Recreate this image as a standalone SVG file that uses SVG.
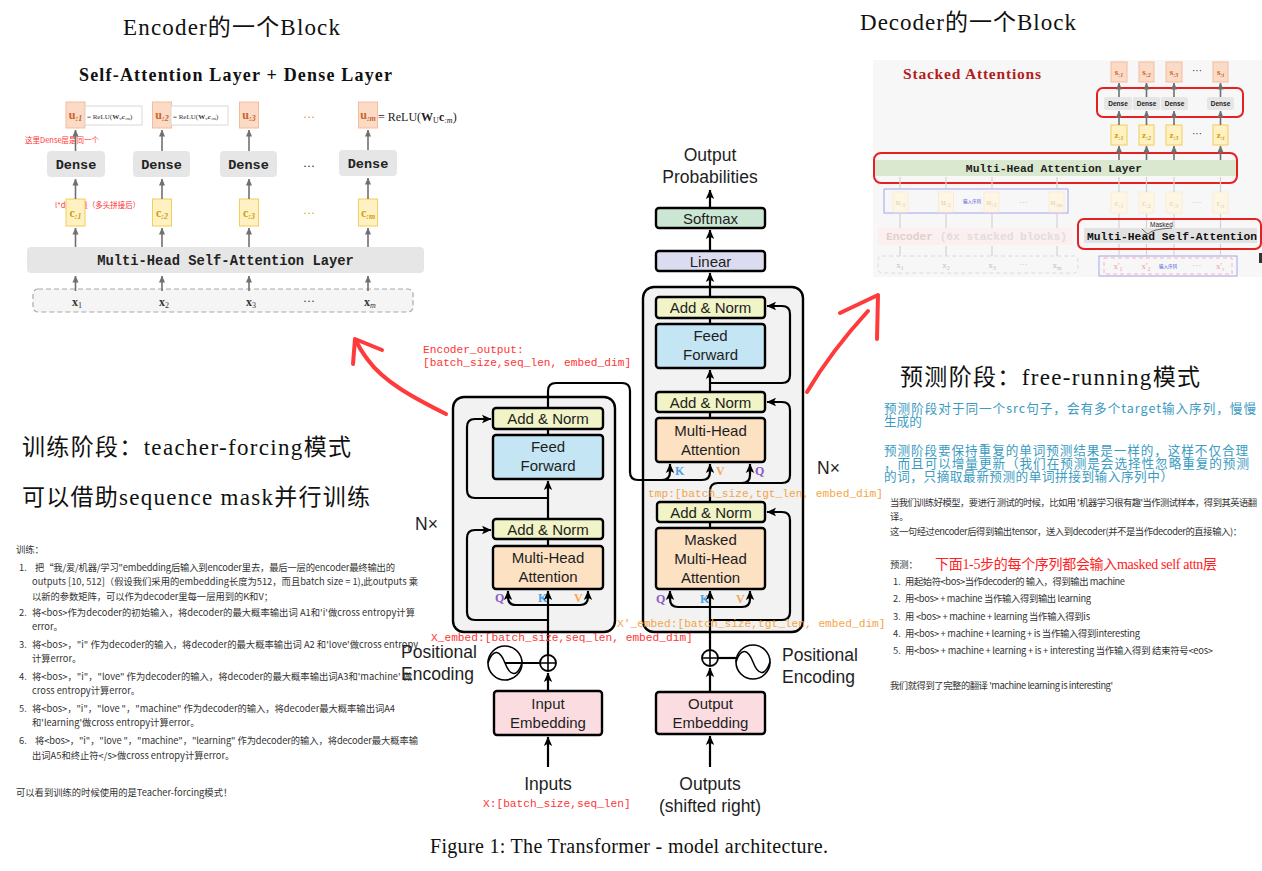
<svg xmlns="http://www.w3.org/2000/svg" width="1262" height="871" viewBox="0 0 1262 871">
<defs>
<style>
.sans{font-family:'Liberation Sans','Noto Sans CJK SC',sans-serif}
.serif{font-family:'Liberation Serif','Noto Sans CJK SC',serif}
.mono{font-family:'Liberation Mono','DejaVu Sans Mono',monospace}
.blk{stroke:#000;stroke-width:2.4}
.an{fill:#f1f4c6}
.ff{fill:#c4e5f4}
.mha{fill:#fde1c3}
.emb{fill:#fbdde1}
.lin{fill:#dcdcf0}
.sm{fill:#cbe7d3}
.outer{fill:#f2f2f2;stroke:#000;stroke-width:2.4}
.lbl{font-family:'Liberation Sans',sans-serif;font-size:15px;fill:#1e1e1e;text-anchor:middle}
.big{font-family:'Liberation Sans',sans-serif;font-size:17.5px;fill:#1e1e1e}
.conn{fill:none;stroke:#000;stroke-width:2.2}
.mred{font-family:'Liberation Mono',monospace;font-size:11.2px;fill:#ff3535}
.morg{font-family:'Liberation Mono',monospace;font-size:11.2px;fill:#f4a545}
.note{font-family:'Noto Sans CJK SC',sans-serif;font-size:9.3px;fill:#333}
.teal{font-family:'Noto Sans CJK SC',sans-serif;font-size:12.6px;fill:#3a9bc1}
.head{font-family:'Liberation Serif','Noto Sans CJK SC',serif;font-size:23px;fill:#111}
.q{font-family:'Liberation Serif',serif;font-size:12px;font-weight:bold;fill:#8a5ccc}
.k{font-family:'Liberation Serif',serif;font-size:12px;font-weight:bold;fill:#4aa3e6}
.v{font-family:'Liberation Serif',serif;font-size:12px;font-weight:bold;fill:#f5a858}
.ubox{fill:#fbdac6;stroke:#f3bc9c;stroke-width:1}
.cbox{fill:#fff1c2;stroke:#f0cd5c;stroke-width:1}
.utx{font-family:'Liberation Serif',serif;font-weight:bold;fill:#c8642a;text-anchor:middle}
.ctx{font-family:'Liberation Serif',serif;font-weight:bold;fill:#c9a010;text-anchor:middle}
.dense{fill:#e6e6e6}
.gar{fill:none;stroke:#707070;stroke-width:1.6}
.far{fill:none;stroke:#d2d2d2;stroke-width:1.2}
.hand{fill:none;stroke:#ff3a3a;stroke-width:4;stroke-linecap:round;stroke-linejoin:round}
.redbox{fill:none;stroke:#e52020;stroke-width:2}
</style>
<marker id="ah" markerUnits="userSpaceOnUse" markerWidth="10" markerHeight="10" refX="9" refY="5" orient="auto">
<path d="M0,0.8 L9.5,5 L0,9.2 L2.2,5 Z" fill="#000"/>
</marker>
<marker id="ag" markerUnits="userSpaceOnUse" markerWidth="7" markerHeight="7" refX="6.5" refY="3.5" orient="auto">
<path d="M0,0.5 L7,3.5 L0,6.5 Z" fill="#707070"/>
</marker>
</defs>
<rect x="0" y="0" width="1262" height="871" fill="#fff"/>

<!-- ============ Top-left: Encoder block figure ============ -->
<g id="encoder-block-figure">
<text class="head" x="123" y="35" textLength="217">Encoder的一个Block</text>
<text class="serif" x="235.5" y="81" font-size="18" font-weight="bold" text-anchor="middle" fill="#111" textLength="313">Self-Attention Layer + Dense Layer</text>
<g id="tl-u">
<rect class="ubox" x="66" y="102" width="19" height="26"/>
<rect class="ubox" x="152.5" y="102" width="19" height="26"/>
<rect class="ubox" x="239.5" y="102" width="19" height="26"/>
<rect class="ubox" x="358.5" y="102" width="19" height="26"/>
<text class="utx" x="75.5" y="119" font-size="12">u<tspan font-size="8" font-style="italic" dy="2">:1</tspan></text>
<text class="utx" x="162" y="119" font-size="12">u<tspan font-size="8" font-style="italic" dy="2">:2</tspan></text>
<text class="utx" x="249" y="119" font-size="12">u<tspan font-size="8" font-style="italic" dy="2">:3</tspan></text>
<text class="utx" x="368" y="119" font-size="12">u<tspan font-size="8" font-style="italic" dy="2">:m</tspan></text>
<text x="309" y="121" font-family="Liberation Serif,serif" font-size="12" fill="#e08840" text-anchor="middle">···</text>
</g>
<g id="tl-relu">
<rect x="85" y="106" width="57" height="19" fill="#fff" stroke="#d8d8d8" stroke-width="1"/>
<rect x="171" y="106" width="57" height="19" fill="#fff" stroke="#d8d8d8" stroke-width="1"/>
<text x="87" y="118.5" font-family="Liberation Serif,serif" font-size="7" fill="#333">= ReLU(<tspan font-weight="bold">W</tspan><tspan font-size="5" dy="1.5">v</tspan><tspan font-weight="bold" font-style="italic" dy="-1.5">c</tspan><tspan font-size="5" dy="1.5">:m</tspan><tspan dy="-1.5">)</tspan></text>
<text x="173" y="118.5" font-family="Liberation Serif,serif" font-size="7" fill="#333">= ReLU(<tspan font-weight="bold">W</tspan><tspan font-size="5" dy="1.5">v</tspan><tspan font-weight="bold" font-style="italic" dy="-1.5">c</tspan><tspan font-size="5" dy="1.5">:m</tspan><tspan dy="-1.5">)</tspan></text>
<text x="378" y="121" font-family="Liberation Serif,serif" font-size="12" fill="#222">= ReLU(<tspan font-weight="bold">W</tspan><tspan font-size="8" dy="2">U</tspan><tspan font-weight="bold" dy="-2">c</tspan><tspan font-size="8" font-style="italic" dy="2">:m</tspan><tspan dy="-2">)</tspan></text>
</g>
<text x="25" y="143" font-family="Noto Sans CJK SC,sans-serif" font-size="7.5" fill="#ff3030">这里Dense层是同一个</text>
<g id="tl-dense">
<rect class="dense" x="47" y="151" width="58" height="26" rx="4"/>
<rect class="dense" x="133" y="151" width="57" height="26" rx="4"/>
<rect class="dense" x="220" y="151" width="57" height="26" rx="4"/>
<rect class="dense" x="339" y="150" width="58" height="26" rx="4"/>
<g font-family="Liberation Mono,monospace" font-size="13.5" font-weight="bold" fill="#222" text-anchor="middle">
<text x="76" y="168.5">Dense</text>
<text x="161.5" y="168.5">Dense</text>
<text x="248.5" y="168.5">Dense</text>
<text x="368" y="167.5">Dense</text>
</g>
<text x="309" y="170" font-family="Liberation Serif,serif" font-size="12" fill="#222" text-anchor="middle">···</text>
</g>
<text x="55" y="208" font-family="Noto Sans CJK SC,sans-serif" font-size="7.5" fill="#ff3030">l*d维向量（多头拼接后）</text>
<g id="tl-c">
<rect class="cbox" x="66" y="199" width="19" height="27"/>
<rect class="cbox" x="152.5" y="199" width="19" height="27"/>
<rect class="cbox" x="239.5" y="199" width="19" height="27"/>
<rect class="cbox" x="358.5" y="199" width="19" height="27"/>
<text class="ctx" x="75.5" y="217" font-size="12">c<tspan font-size="8" font-style="italic" dy="2">:1</tspan></text>
<text class="ctx" x="162" y="217" font-size="12">c<tspan font-size="8" font-style="italic" dy="2">:2</tspan></text>
<text class="ctx" x="249" y="217" font-size="12">c<tspan font-size="8" font-style="italic" dy="2">:3</tspan></text>
<text class="ctx" x="368" y="217" font-size="12">c<tspan font-size="8" font-style="italic" dy="2">:m</tspan></text>
<text x="309" y="217" font-family="Liberation Serif,serif" font-size="12" fill="#d8a820" text-anchor="middle">···</text>
</g>
<g id="tl-layer">
<rect x="27" y="247" width="397" height="26" rx="4" fill="#e6e6e6"/>
<text x="225.5" y="264.5" font-family="Liberation Mono,monospace" font-size="13.8" font-weight="bold" fill="#222" text-anchor="middle">Multi-Head Self-Attention Layer</text>
</g>
<g id="tl-inputs">
<rect x="33" y="289" width="380" height="23" rx="5" fill="#f5f5f5" stroke="#aaa" stroke-width="1.2" stroke-dasharray="5 3"/>
<g font-family="Liberation Serif,serif" font-size="12" font-weight="bold" fill="#333" text-anchor="middle">
<text x="77" y="306">x<tspan font-size="8" font-weight="normal" dy="2">1</tspan></text>
<text x="164" y="306">x<tspan font-size="8" font-weight="normal" dy="2">2</tspan></text>
<text x="251" y="306">x<tspan font-size="8" font-weight="normal" dy="2">3</tspan></text>
<text x="309" y="305" font-weight="normal">···</text>
<text x="370" y="306">x<tspan font-size="8" font-weight="normal" font-style="italic" dy="2">m</tspan></text>
</g>
</g>
<g id="tl-arrows">
<path class="gar" d="M75.5,291V276" marker-end="url(#ag)"/><path class="gar" d="M162,291V276" marker-end="url(#ag)"/><path class="gar" d="M249,291V276" marker-end="url(#ag)"/><path class="gar" d="M368,291V276" marker-end="url(#ag)"/>
<path class="gar" d="M75.5,247V228" marker-end="url(#ag)"/><path class="gar" d="M162,247V228" marker-end="url(#ag)"/><path class="gar" d="M249,247V228" marker-end="url(#ag)"/><path class="gar" d="M368,247V228" marker-end="url(#ag)"/>
<path class="gar" d="M75.5,199V179" marker-end="url(#ag)"/><path class="gar" d="M162,199V179" marker-end="url(#ag)"/><path class="gar" d="M249,199V179" marker-end="url(#ag)"/><path class="gar" d="M368,199V178" marker-end="url(#ag)"/>
<path class="gar" d="M75.5,151V130" marker-end="url(#ag)"/><path class="gar" d="M162,151V130" marker-end="url(#ag)"/><path class="gar" d="M249,151V130" marker-end="url(#ag)"/><path class="gar" d="M368,150V130" marker-end="url(#ag)"/>
</g>
</g>

<!-- ============ Top-right: Decoder block figure ============ -->
<g id="decoder-block-figure">
<text class="head" x="860" y="30" textLength="216">Decoder的一个Block</text>
<rect x="873" y="60" width="389" height="217" fill="#f7f7f7"/>
<text x="903" y="79" font-family="Liberation Serif,serif" font-size="15.5" font-weight="bold" fill="#b41c1c" textLength="138">Stacked Attentions</text>
<g id="tr-s">
<rect class="ubox" x="1111" y="62" width="16" height="20"/>
<rect class="ubox" x="1139" y="62" width="15" height="20"/>
<rect class="ubox" x="1166" y="62" width="16" height="20"/>
<rect class="ubox" x="1213" y="62" width="15" height="20"/>
<text class="utx" x="1119" y="75" font-size="9">s<tspan font-size="6" font-style="italic" dy="1.5">:1</tspan></text>
<text class="utx" x="1146.5" y="75" font-size="9">s<tspan font-size="6" font-style="italic" dy="1.5">:2</tspan></text>
<text class="utx" x="1174" y="75" font-size="9">s<tspan font-size="6" font-style="italic" dy="1.5">:3</tspan></text>
<text class="utx" x="1220.5" y="75" font-size="9">s<tspan font-size="6" font-style="italic" dy="1.5">:t</tspan></text>
<text x="1197" y="74" font-family="Liberation Serif,serif" font-size="10" fill="#222" text-anchor="middle">···</text>
</g>
<g id="tr-dense">
<rect class="dense" x="1104" y="97" width="28" height="13" rx="2"/>
<rect class="dense" x="1133" y="97" width="27" height="13" rx="2"/>
<rect class="dense" x="1161" y="97" width="27" height="13" rx="2"/>
<rect class="dense" x="1207" y="97" width="27" height="13" rx="2"/>
<g font-family="Liberation Sans,sans-serif" font-size="6.5" font-weight="bold" fill="#222" text-anchor="middle">
<text x="1118" y="106">Dense</text><text x="1146.5" y="106">Dense</text><text x="1174.5" y="106">Dense</text><text x="1220.5" y="106">Dense</text>
</g>
<rect class="redbox" x="1097" y="88" width="146" height="29" rx="6"/>
</g>
<g id="tr-z">
<rect class="cbox" x="1111" y="125" width="16" height="20"/>
<rect class="cbox" x="1139" y="125" width="15" height="20"/>
<rect class="cbox" x="1166" y="125" width="16" height="20"/>
<rect class="cbox" x="1213" y="125" width="15" height="20"/>
<text class="ctx" x="1119" y="138" font-size="9">z<tspan font-size="6" font-style="italic" dy="1.5">:1</tspan></text>
<text class="ctx" x="1146.5" y="138" font-size="9">z<tspan font-size="6" font-style="italic" dy="1.5">:2</tspan></text>
<text class="ctx" x="1174" y="138" font-size="9">z<tspan font-size="6" font-style="italic" dy="1.5">:3</tspan></text>
<text class="ctx" x="1220.5" y="138" font-size="9">z<tspan font-size="6" font-style="italic" dy="1.5">:t</tspan></text>
<text x="1197" y="137" font-family="Liberation Serif,serif" font-size="10" fill="#222" text-anchor="middle">···</text>
</g>
<g id="tr-mha">
<rect x="874" y="160" width="362" height="16" fill="#d9e8cf"/>
<text x="1054" y="171.5" font-family="Liberation Mono,monospace" font-size="11.3" font-weight="bold" fill="#222" text-anchor="middle">Multi-Head Attention Layer</text>
<rect class="redbox" x="874" y="153" width="363" height="30" rx="7"/>
</g>
<g id="tr-faded">
<rect x="884" y="189" width="184" height="24" fill="none" stroke="#a4a4f0" stroke-width="1"/>
<g fill="#fdf6e4" stroke="#f7ead0" stroke-width="0.8">
<rect x="893" y="192" width="15" height="20"/><rect x="938.5" y="192" width="15" height="20"/><rect x="984" y="192" width="15" height="20"/><rect x="1049" y="192" width="15" height="20"/>
<rect x="1111" y="192" width="16" height="21"/><rect x="1139" y="192" width="15" height="21"/><rect x="1166" y="192" width="16" height="21"/><rect x="1213" y="192" width="15" height="21"/>
</g>
<g font-family="Liberation Serif,serif" font-size="9" font-weight="bold" fill="#eadcb8" text-anchor="middle">
<text x="900.5" y="205">u<tspan font-size="6" dy="1.5">:1</tspan></text><text x="946" y="205">u<tspan font-size="6" dy="1.5">:2</tspan></text><text x="991.5" y="205">u<tspan font-size="6" dy="1.5">:3</tspan></text><text x="1056.5" y="205">u<tspan font-size="6" dy="1.5">:m</tspan></text>
<text x="1119" y="206">c<tspan font-size="6" dy="1.5">:1</tspan></text><text x="1146.5" y="206">c<tspan font-size="6" dy="1.5">:2</tspan></text><text x="1174" y="206">c<tspan font-size="6" dy="1.5">:3</tspan></text><text x="1220.5" y="206">c<tspan font-size="6" dy="1.5">:t</tspan></text>
</g>
<text x="1023" y="205" font-family="Liberation Serif,serif" font-size="9" fill="#bbb" text-anchor="middle">···</text>
<text x="1197" y="205" font-family="Liberation Serif,serif" font-size="9" fill="#bbb" text-anchor="middle">···</text>
<text x="972" y="203" font-family="Noto Sans CJK SC,sans-serif" font-size="4.5" fill="#5050e0" text-anchor="middle">输入序列</text>
<rect x="878" y="228" width="195" height="17" fill="#fcefef"/>
<text x="886" y="240" font-family="Liberation Mono,monospace" font-size="11.2" font-weight="bold" fill="#ddd0d0" textLength="181">Encoder <tspan fill="#dedede">(6x stacked blocks)</tspan></text>
<rect x="878" y="256" width="200" height="17" rx="4" fill="none" stroke="#dadada" stroke-width="1" stroke-dasharray="4 3"/>
<g font-family="Liberation Serif,serif" font-size="9" fill="#c0c0c0" text-anchor="middle">
<text x="900" y="268">x<tspan font-size="6" dy="1.5">1</tspan></text><text x="946" y="268">x<tspan font-size="6" dy="1.5">2</tspan></text><text x="992" y="268">x<tspan font-size="6" dy="1.5">3</tspan></text><text x="1023" y="267">···</text><text x="1057" y="268">x<tspan font-size="6" dy="1.5">m</tspan></text>
</g>
<rect x="1099" y="256" width="138" height="20" fill="none" stroke="#a4a4f0" stroke-width="1"/>
<rect x="1104" y="258" width="128" height="16" fill="none" stroke="#f6b4b4" stroke-width="1" stroke-dasharray="4 3"/>
<g font-family="Liberation Serif,serif" font-size="9" fill="#f09a9a" text-anchor="middle">
<text x="1118" y="269">x'<tspan font-size="6" dy="1.5">1</tspan></text><text x="1146" y="269">x'<tspan font-size="6" dy="1.5">2</tspan></text><text x="1197" y="268">···</text><text x="1220" y="269">x'<tspan font-size="6" dy="1.5">t</tspan></text>
</g>
<text x="1168" y="268" font-family="Noto Sans CJK SC,sans-serif" font-size="4.5" fill="#5050e0" text-anchor="middle">输入序列</text>
<path class="far" d="M900,256V246 M946,256V246 M992,256V246 M1057,256V246 M900,228V214 M946,228V214 M992,228V214 M1057,228V214 M900,189V177 M946,189V177 M992,189V177 M1057,189V177 M1119,256V244 M1146.5,256V244 M1174,256V244 M1220.5,256V244 M1119,228V214 M1146.5,228V214 M1174,228V214 M1220.5,228V214 M1119,192V177 M1146.5,192V177 M1174,192V177 M1220.5,192V177"/>
</g>
<g id="tr-mmsa">
<rect x="1084" y="228" width="173" height="15" fill="#e2e2e2"/>
<text x="1087" y="239.5" font-family="Liberation Mono,monospace" font-size="11.3" font-weight="bold" fill="#111" textLength="170">Multi-Head Self-Attention</text>
<text x="1150" y="227" font-family="Liberation Sans,sans-serif" font-size="6.5" fill="#222">Masked</text>
<path d="M1142,229 Q1146,233 1148,234 Q1152,229 1172,228" fill="none" stroke="#333" stroke-width="0.7"/>
<rect class="redbox" x="1078" y="219" width="183" height="30" rx="6"/>
</g>
<g id="tr-arrows">
<path class="gar" d="M1119,97V83" marker-end="url(#ag)"/><path class="gar" d="M1146.5,97V83" marker-end="url(#ag)"/><path class="gar" d="M1174,97V83" marker-end="url(#ag)"/><path class="gar" d="M1220.5,97V83" marker-end="url(#ag)"/>
<path class="gar" d="M1119,125V111" marker-end="url(#ag)"/><path class="gar" d="M1146.5,125V111" marker-end="url(#ag)"/><path class="gar" d="M1174,125V111" marker-end="url(#ag)"/><path class="gar" d="M1220.5,125V111" marker-end="url(#ag)"/>
<path class="gar" d="M1119,160V146" marker-end="url(#ag)"/><path class="gar" d="M1146.5,160V146" marker-end="url(#ag)"/><path class="gar" d="M1174,160V146" marker-end="url(#ag)"/><path class="gar" d="M1220.5,160V146" marker-end="url(#ag)"/>
</g>
<rect x="1259" y="253" width="3" height="10" fill="#333"/>
</g>

<!-- ============ Transformer: nodes ============ -->
<g id="encoder-stack"><rect class="outer" x="453" y="397" width="162" height="235" rx="11"/><text class="big" x="415" y="530">N×</text></g>
<g id="decoder-stack"><rect class="outer" x="643" y="287" width="160" height="345" rx="11"/><text class="big" x="817" y="474">N×</text></g>

<g id="enc-addnorm2"><rect class="an blk" x="493" y="408" width="110" height="21" rx="3"/><text class="lbl" x="548" y="424">Add &amp; Norm</text></g>
<g id="enc-ff"><rect class="ff blk" x="493" y="435" width="110" height="44" rx="3"/><text class="lbl" x="548" y="452">Feed</text><text class="lbl" x="548" y="471">Forward</text></g>
<g id="enc-addnorm1"><rect class="an blk" x="493" y="519" width="110" height="20" rx="3"/><text class="lbl" x="548" y="535">Add &amp; Norm</text></g>
<g id="enc-mha"><rect class="mha blk" x="493" y="546" width="110" height="43" rx="3"/><text class="lbl" x="548" y="563">Multi-Head</text><text class="lbl" x="548" y="582">Attention</text>
<text class="q" x="495" y="602">Q</text><text class="k" x="538" y="602">K</text><text class="v" x="574" y="602">V</text></g>
<g id="enc-embed"><rect class="emb blk" x="494" y="691" width="108" height="44" rx="3"/><text class="lbl" x="548" y="709">Input</text><text class="lbl" x="548" y="728">Embedding</text></g>
<g id="enc-posenc">
<circle cx="548" cy="663" r="8" fill="#fff" stroke="#000" stroke-width="1.8"/><path d="M540,663H556M548,655V671" stroke="#000" stroke-width="1.6"/>
<circle cx="505" cy="663" r="17" fill="#fff" stroke="#000" stroke-width="1.6"/>
<path d="M488,663 C493,648 500,650 505,663 C510,676 517,678 522,663" fill="none" stroke="#000" stroke-width="1.5"/>
<text class="big" x="401" y="658">Positional</text><text class="big" x="401" y="680">Encoding</text>
</g>
<g id="enc-inputs"><text class="big" x="548" y="790" text-anchor="middle">Inputs</text></g>

<g id="dec-softmax"><rect class="sm blk" x="656" y="208" width="109" height="20" rx="3"/><text class="lbl" x="710.5" y="224">Softmax</text></g>
<g id="dec-linear"><rect class="lin blk" x="656" y="251" width="109" height="20" rx="3"/><text class="lbl" x="710.5" y="267">Linear</text></g>
<g id="dec-outprob"><text class="big" x="710" y="161" text-anchor="middle">Output</text><text class="big" x="710" y="183" text-anchor="middle">Probabilities</text></g>
<g id="dec-addnorm3"><rect class="an blk" x="656" y="297" width="109" height="21" rx="3"/><text class="lbl" x="710.5" y="313">Add &amp; Norm</text></g>
<g id="dec-ff"><rect class="ff blk" x="656" y="324" width="109" height="44" rx="3"/><text class="lbl" x="710.5" y="341">Feed</text><text class="lbl" x="710.5" y="360">Forward</text></g>
<g id="dec-addnorm2"><rect class="an blk" x="656" y="392" width="109" height="20" rx="3"/><text class="lbl" x="710.5" y="408">Add &amp; Norm</text></g>
<g id="dec-mha"><rect class="mha blk" x="656" y="418" width="109" height="44" rx="3"/><text class="lbl" x="710.5" y="436">Multi-Head</text><text class="lbl" x="710.5" y="455">Attention</text>
<text class="k" x="675" y="475">K</text><text class="v" x="716" y="475">V</text><text class="q" x="755" y="475">Q</text></g>
<g id="dec-addnorm1"><rect class="an blk" x="657" y="502" width="108" height="20" rx="3"/><text class="lbl" x="711" y="518">Add &amp; Norm</text></g>
<g id="dec-mmha"><rect class="mha blk" x="656" y="528" width="109" height="61" rx="3"/><text class="lbl" x="710.5" y="545">Masked</text><text class="lbl" x="710.5" y="564">Multi-Head</text><text class="lbl" x="710.5" y="583">Attention</text>
<text class="q" x="656" y="603">Q</text><text class="k" x="700" y="603">K</text><text class="v" x="736" y="603">V</text></g>
<g id="dec-embed"><rect class="emb blk" x="656" y="692" width="109" height="42" rx="3"/><text class="lbl" x="710.5" y="709">Output</text><text class="lbl" x="710.5" y="728">Embedding</text></g>
<g id="dec-posenc">
<circle cx="710" cy="658" r="8" fill="#fff" stroke="#000" stroke-width="1.8"/><path d="M702,658H718M710,650V666" stroke="#000" stroke-width="1.6"/>
<circle cx="753" cy="662" r="17" fill="#fff" stroke="#000" stroke-width="1.6"/>
<path d="M736,662 C741,647 748,649 753,662 C758,675 765,677 770,662" fill="none" stroke="#000" stroke-width="1.5"/>
<text class="big" x="782" y="661">Positional</text><text class="big" x="782" y="683">Encoding</text>
</g>
<g id="dec-outputs"><text class="big" x="710" y="790" text-anchor="middle">Outputs</text><text class="big" x="710" y="812" text-anchor="middle">(shifted right)</text></g>

<!-- ============ Connectors ============ -->
<g id="connectors">
<path class="conn" d="M548,767V737" marker-end="url(#ah)"/>
<path class="conn" d="M548,691V673" marker-end="url(#ah)"/>
<path class="conn" d="M505,663H540"/>
<path class="conn" d="M548,655V591" marker-end="url(#ah)"/>
<path class="conn" d="M548,605H516Q508,605 508,597V591" marker-end="url(#ah)"/>
<path class="conn" d="M548,605H580Q588,605 588,597V591" marker-end="url(#ah)"/>
<path class="conn" d="M548,620H475Q467,620 467,612V538Q467,530 475,530H491" marker-end="url(#ah)"/>
<path class="conn" d="M548,546V539"/>
<path class="conn" d="M548,519V481" marker-end="url(#ah)"/>
<path class="conn" d="M548,498H475Q467,498 467,490V427Q467,419 475,419H491" marker-end="url(#ah)"/>
<path class="conn" d="M548,435V429"/>
<path class="conn" d="M548,408V391Q548,383 556,383H622Q630,383 630,391V472Q630,480 638,480H702Q710,480 710,472V464" marker-end="url(#ah)"/>
<path class="conn" d="M662,480Q670,480 670,472V464" marker-end="url(#ah)"/>

<path class="conn" d="M710,767V736" marker-end="url(#ah)"/>
<path class="conn" d="M710,692V668" marker-end="url(#ah)"/>
<path class="conn" d="M718,658H736"/>
<path class="conn" d="M710,650V591" marker-end="url(#ah)"/>
<path class="conn" d="M710,607H678Q670,607 670,599V591" marker-end="url(#ah)"/>
<path class="conn" d="M710,607H742Q750,607 750,599V591" marker-end="url(#ah)"/>
<path class="conn" d="M710,620H782Q790,620 790,612V520Q790,512 782,512H767" marker-end="url(#ah)"/>
<path class="conn" d="M710,528V522"/>
<path class="conn" d="M710,502V491Q710,483 718,483H742Q750,483 750,475V464" marker-end="url(#ah)"/>
<path class="conn" d="M740,483H782Q790,483 790,475V410Q790,402 782,402H767" marker-end="url(#ah)"/>
<path class="conn" d="M710,418V412"/>
<path class="conn" d="M710,392V370" marker-end="url(#ah)"/>
<path class="conn" d="M710,383H782Q790,383 790,375V314Q790,306 782,306H767" marker-end="url(#ah)"/>
<path class="conn" d="M710,324V318"/>
<path class="conn" d="M710,297V273" marker-end="url(#ah)"/>
<path class="conn" d="M710,251V230" marker-end="url(#ah)"/>
<path class="conn" d="M710,208V190" marker-end="url(#ah)"/>
</g>

<!-- ============ Annotations ============ -->
<g id="shape-labels">
<text class="mred" x="423" y="353">Encoder_output:</text>
<text class="mred" x="423" y="366">[batch_size,seq_len, embed_dim]</text>
<text class="morg" x="648" y="497">tmp:[batch_size,tgt_len, embed_dim]</text>
<text class="morg" x="617" y="627">X'_embed:[batch_size,tgt_len, embed_dim]</text>
<text class="mred" x="431" y="641">X_embed:[batch_size,seq_len, embed_dim]</text>
<text class="mred" x="483" y="807">X:[batch_size,seq_len]</text>
</g>

<g id="hand-arrows">
<path class="hand" d="M446,414 C414,398 384,382 368,360 C362,352 358,346 356,340"/>
<path class="hand" d="M382,350 L355,339 L353,364"/>
<path class="hand" d="M807,392 C826,360 846,335 868,311"/>
<path class="hand" d="M840,313 L878,295 L877,339"/>
</g>

<g id="training-notes">
<text class="head" x="22" y="455" textLength="329">训练阶段：teacher-forcing模式</text>
<text class="head" x="22" y="505" textLength="348">可以借助sequence mask并行训练</text>
<text class="note" x="16" y="553">训练：</text>
<text class="note" x="19" y="571">1.</text><text class="note" x="35" y="571" textLength="360">把“我/爱/机器/学习"embedding后输入到encoder里去，最后一层的encoder最终输出的</text>
<text class="note" x="32" y="585" textLength="386">outputs [10, 512]（假设我们采用的embedding长度为512，而且batch size = 1),此outputs 乘</text>
<text class="note" x="32" y="600" textLength="241">以新的参数矩阵，可以作为decoder里每一层用到的K和V；</text>
<text class="note" x="19" y="616">2.</text><text class="note" x="32" y="616" textLength="383">将&lt;bos&gt;作为decoder的初始输入，将decoder的最大概率输出词 A1和'i'做cross entropy计算</text>
<text class="note" x="32" y="630">error。</text>
<text class="note" x="19" y="648">3.</text><text class="note" x="32" y="648" textLength="386">将&lt;bos&gt;，"i" 作为decoder的输入，将decoder的最大概率输出词 A2 和'love'做cross entropy</text>
<text class="note" x="32" y="662">计算error。</text>
<text class="note" x="19" y="680">4.</text><text class="note" x="32" y="680" textLength="380">将&lt;bos&gt;，"i"，"love" 作为decoder的输入，将decoder的最大概率输出词A3和'machine' 做</text>
<text class="note" x="32" y="694">cross entropy计算error。</text>
<text class="note" x="19" y="712">5.</text><text class="note" x="32" y="712" textLength="363">将&lt;bos&gt;，"i"，"love "，"machine" 作为decoder的输入，将decoder最大概率输出词A4</text>
<text class="note" x="32" y="726">和'learning'做cross entropy计算error。</text>
<text class="note" x="19" y="744">6.</text><text class="note" x="35" y="744" textLength="383">将&lt;bos&gt;，"i"，"love "，"machine"，"learning" 作为decoder的输入，将decoder最大概率输</text>
<text class="note" x="32" y="759">出词A5和终止符&lt;/s&gt;做cross entropy计算error。</text>
<text class="note" x="16" y="796">可以看到训练的时候使用的是Teacher-forcing模式！</text>
</g>

<g id="inference-notes">
<text class="head" x="900" y="385" textLength="300">预测阶段：free-running模式</text>
<text class="teal" x="884" y="413" textLength="372">预测阶段对于同一个src句子，会有多个target输入序列，慢慢</text>
<text class="teal" x="884" y="426">生成的</text>
<text class="teal" x="884" y="455" textLength="364">预测阶段要保持重复的单词预测结果是一样的，这样不仅合理</text>
<text class="teal" x="884" y="468" textLength="365">，而且可以增量更新（我们在预测是会选择性忽略重复的预测</text>
<text class="teal" x="884" y="481" textLength="289">的词，只摘取最新预测的单词拼接到输入序列中）</text>
<text class="note" x="890" y="506" textLength="367">当我们训练好模型，要进行 测试的时候，比如用 '机器学习很有趣'当作测试样本，得到其英语翻</text>
<text class="note" x="890" y="520">译。</text>
<text class="note" x="890" y="535" textLength="352">这一句经过encoder后得到输出tensor，送入到decoder(并不是当作decoder的直接输入)：</text>
<text class="note" x="890" y="568">预测：</text>
<text x="935" y="569" font-family="Liberation Serif,'Noto Sans CJK SC',serif" font-size="14" fill="#ff2020" textLength="282">下面1-5步的每个序列都会输入masked self attn层</text>
<text class="note" x="893" y="585">1.</text><text class="note" x="905" y="585" textLength="220">用起始符&lt;bos&gt;当作decoder的 输入，得到输出 machine</text>
<text class="note" x="893" y="602">2.</text><text class="note" x="905" y="602" textLength="186">用&lt;bos&gt; + machine 当作输入得到输出 learning</text>
<text class="note" x="893" y="620">3.</text><text class="note" x="905" y="620" textLength="185">用 &lt;bos&gt; + machine + learning 当作输入得到is</text>
<text class="note" x="893" y="637">4.</text><text class="note" x="905" y="637" textLength="235">用&lt;bos&gt; + machine + learning + is 当作输入得到interesting</text>
<text class="note" x="893" y="654">5.</text><text class="note" x="905" y="654" textLength="308">用&lt;bos&gt; + machine + learning + is + interesting 当作输入得到 结束符号&lt;eos&gt;</text>
<text class="note" x="890" y="689" textLength="223">我们就得到了完整的翻译 'machine learning is interesting'</text>
</g>

<text x="629" y="853" font-family="Liberation Serif,serif" font-size="20" fill="#111" text-anchor="middle" textLength="398">Figure 1: The Transformer - model architecture.</text>
</svg>
